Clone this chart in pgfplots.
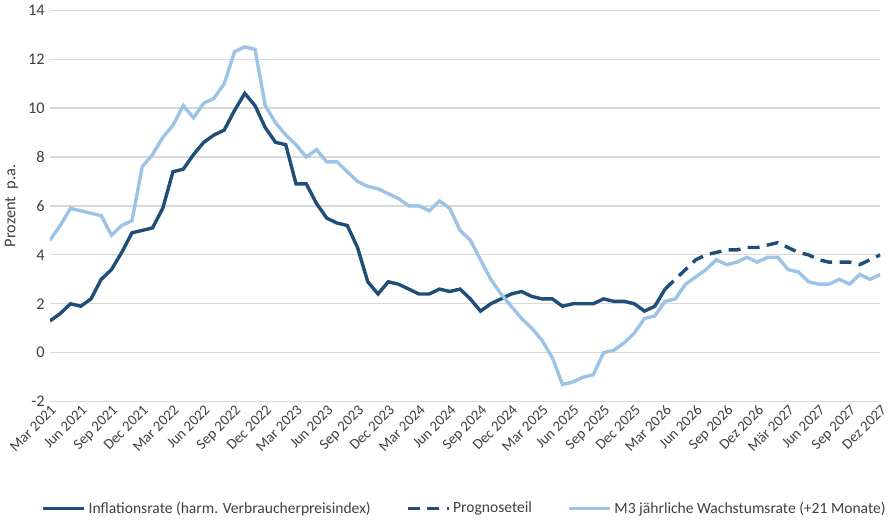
\documentclass[border=0pt]{standalone}
\usepackage{pgfplots}
\pgfplotsset{compat=1.18}
\usepackage{fontspec}
\setmainfont{Carlito}
\definecolor{dblue}{HTML}{1F4E79}
\definecolor{lblue}{HTML}{9DC3E6}
\begin{document}
\begin{tikzpicture}
\begin{axis}[
  scale only axis, width=560pt, height=264pt,
  xmin=0, xmax=81, ymin=-2, ymax=14,
  ytick={-2,0,...,14},
  xtick={0,3,...,81},
  xticklabels={Mar 2021,Jun 2021,Sep 2021,Dec 2021,Mar 2022,Jun 2022,Sep 2022,Dec 2022,Mar 2023,Jun 2023,Sep 2023,Dec 2023,Mar 2024,Jun 2024,Sep 2024,Dec 2024,Mar 2025,Jun 2025,Sep 2025,Dec 2025,Mar 2026,Jun 2026,Sep 2026,Dez 2026,Mär 2027,Jun 2027,Sep 2027,Dez 2027},
  x tick label style={rotate=45, anchor=north east, inner sep=1pt, font=\fontsize{10}{11}\selectfont, text=black!75},
  y tick label style={font=\fontsize{11}{12}\selectfont, text=black!75},
  /pgf/number format/assume math mode=true,
  axis line style={draw=none}, tick style={draw=none},
  ymajorgrids, grid style={gray!30, line width=0.8pt},
  ylabel={Prozent\ \ p.a.}, ylabel style={font=\fontsize{11}{12}\selectfont, text=black!75},
  legend columns=3,
  legend style={at={(0.5,-0.24)}, anchor=north, draw=none, font=\fontsize{10.5}{12}\selectfont, text=black!75, /tikz/every even column/.append style={column sep=22pt}},
  legend image post style={xscale=1.6},
]
\addplot[dblue, line width=2.3pt] coordinates {
(0,1.3)(1,1.6)(2,2.0)(3,1.9)(4,2.2)(5,3.0)(6,3.4)(7,4.1)(8,4.9)(9,5.0)
(10,5.1)(11,5.9)(12,7.4)(13,7.5)(14,8.1)(15,8.6)(16,8.9)(17,9.1)(18,9.9)(19,10.6)(20,10.1)(21,9.2)
(22,8.6)(23,8.5)(24,6.9)(25,6.9)(26,6.1)(27,5.5)(28,5.3)(29,5.2)(30,4.3)(31,2.9)(32,2.4)(33,2.9)
(34,2.8)(35,2.6)(36,2.4)(37,2.4)(38,2.6)(39,2.5)(40,2.6)(41,2.2)(42,1.7)(43,2.0)(44,2.2)(45,2.4)
(46,2.5)(47,2.3)(48,2.2)(49,2.2)(50,1.9)(51,2.0)(52,2.0)(53,2.0)(54,2.2)(55,2.1)(56,2.1)(57,2.0)
(58,1.7)(59,1.9)(60,2.6)};
\addlegendentry{Inflationsrate (harm. Verbraucherpreisindex)}
\addplot[dblue, line width=2.3pt, dash pattern=on 8pt off 5pt] coordinates {
(60,2.6)(61,3.0)(62,3.4)(63,3.8)(64,4.0)(65,4.1)(66,4.2)(67,4.2)(68,4.3)(69,4.3)(70,4.4)(71,4.5)
(72,4.3)(73,4.1)(74,4.0)(75,3.8)(76,3.7)(77,3.7)(78,3.7)(79,3.6)(80,3.8)(81,4.0)};
\addlegendentry{Prognoseteil}
\addplot[lblue, line width=2.3pt] coordinates {
(0,4.6)(1,5.2)(2,5.9)(3,5.8)(4,5.7)(5,5.6)(6,4.8)(7,5.2)(8,5.4)(9,7.6)
(10,8.1)(11,8.8)(12,9.3)(13,10.1)(14,9.6)(15,10.2)(16,10.4)(17,11.0)(18,12.3)(19,12.5)(20,12.4)(21,10.1)
(22,9.4)(23,8.9)(24,8.5)(25,8.0)(26,8.3)(27,7.8)(28,7.8)(29,7.4)(30,7.0)(31,6.8)(32,6.7)(33,6.5)
(34,6.3)(35,6.0)(36,6.0)(37,5.8)(38,6.2)(39,5.9)(40,5.0)(41,4.6)(42,3.8)(43,3.0)(44,2.4)(45,1.9)
(46,1.4)(47,1.0)(48,0.5)(49,-0.2)(50,-1.3)(51,-1.2)(52,-1.0)(53,-0.9)(54,0.0)(55,0.1)(56,0.4)(57,0.8)
(58,1.4)(59,1.5)(60,2.1)(61,2.2)(62,2.8)(63,3.1)(64,3.4)(65,3.8)(66,3.6)(67,3.7)(68,3.9)(69,3.7)
(70,3.9)(71,3.9)(72,3.4)(73,3.3)(74,2.9)(75,2.8)(76,2.8)(77,3.0)(78,2.8)(79,3.2)(80,3.0)(81,3.2)};
\addlegendentry{M3 jährliche Wachstumsrate (+21 Monate)}
\end{axis}
\end{tikzpicture}
\end{document}
